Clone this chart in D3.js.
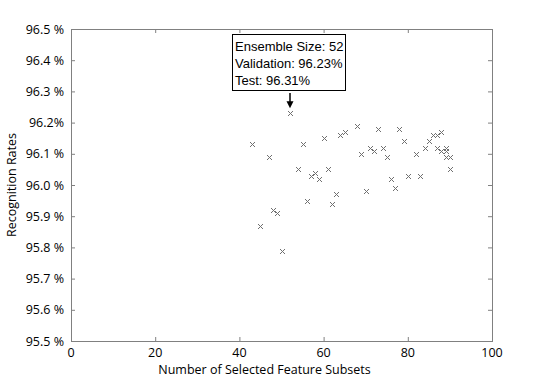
<!DOCTYPE html>
<html>
<head>
<meta charset="utf-8">
<script src="https://cdn.jsdelivr.net/npm/d3@7"></script>
<style>
body{margin:0;background:#fff;}
.tickText{font-family:"Open Sans",sans-serif;font-size:12.5px;fill:#000;}
.aText{font-family:"Open Sans",sans-serif;font-size:12.5px;fill:#000;}
.note{font-family:"Liberation Sans",Arial,sans-serif;font-size:13px;fill:#000;}
</style>
</head>
<body>
<div id="chart"></div>
<script>
// ensemble sizes and recognition rates (%)
var sizes=[43,45,47,48,49,50,52,54,55,56,57,58,59,60,61,62,63,64,65,68,69,70,71,72,73,74,75,76,77,78,79,80,82,83,84,85,86,87,87,88,88,89,89,89,90,90];
var rates=[96.13,95.87,96.09,95.92,95.91,95.79,96.23,96.05,96.13,95.95,96.03,96.04,96.02,96.15,96.05,95.94,95.97,96.16,96.17,96.19,96.10,95.98,96.12,96.11,96.18,96.12,96.09,96.02,95.99,96.18,96.14,96.03,96.10,96.03,96.12,96.14,96.16,96.16,96.12,96.17,96.11,96.12,96.11,96.09,96.09,96.05];
var xTicks=[0,20,40,60,80,100];
var yTicks=[95.5,95.6,95.7,95.8,95.9,96.0,96.1,96.2,96.3,96.4,96.5];
var yTickLabels=["95.5 %","95.6 %","95.7 %","95.8 %","95.9 %","96.0 %","96.1 %","96.2%","96.3 %","96.4 %","96.5 %"];
var noteLines=["Ensemble Size: 52","Validation: 96.23%","Test: 96.31%"];
var noteIndex=6;

var wide=543;
var high=384;
var pLeft=71;
var pRight=492;
var pTop=29;
var pBottom=341;
var svg=d3
  .select("#chart")
  .append("svg")
  .attr("width",wide)
  .attr("height",high);
var xscale=d3.scaleLinear().domain([0,100]).range([pLeft,pRight]);
var yscale=d3.scaleLinear().domain([95.5,96.5]).range([pBottom,pTop]);
var axisColor="#808080";
var tk=4;
// ticks on all four sides
function tickLines(axisGen,tr){
  svg.append("g")
    .attr("transform",tr)
    .call(axisGen)
    .call(function(g){
      g.select(".domain").remove();
      g.selectAll(".tick line").attr("stroke",axisColor);
      g.selectAll(".tick text").remove();
    });
}
tickLines(d3.axisTop(xscale).tickValues(xTicks).tickSize(tk),"translate(0,"+pBottom+")");
tickLines(d3.axisBottom(xscale).tickValues(xTicks).tickSize(tk),"translate(0,"+pTop+")");
tickLines(d3.axisRight(yscale).tickValues(yTicks).tickSize(tk),"translate("+pLeft+",0)");
tickLines(d3.axisLeft(yscale).tickValues(yTicks).tickSize(tk),"translate("+pRight+",0)");
svg.append("rect")
  .attr("x",pLeft+0.5)
  .attr("y",pTop+0.5)
  .attr("width",pRight-pLeft)
  .attr("height",pBottom-pTop)
  .attr("fill","none")
  .attr("stroke",axisColor);
// tick labels
svg.selectAll(".xl")
  .data(xTicks)
  .enter()
  .append("text")
  .attr("class","tickText")
  .attr("x",function(d){return xscale(d);})
  .attr("y",pBottom+16)
  .attr("text-anchor","middle")
  .text(function(d){return d;});
svg.selectAll(".yl")
  .data(yTicks)
  .enter()
  .append("text")
  .attr("class","tickText")
  .attr("x",pLeft-7)
  .attr("y",function(d){return yscale(d)+4.5;})
  .attr("text-anchor","end")
  .text(function(d,i){return yTickLabels[i];});
svg.append("text")
  .attr("class","aText")
  .attr("x",(pLeft+pRight)/2-17)
  .attr("y",pBottom+33)
  .attr("text-anchor","middle")
  .text("Number of Selected Feature Subsets");
svg.append("text")
  .attr("class","aText")
  .attr("transform","translate(16,"+((pTop+pBottom)/2)+")rotate(-90)")
  .attr("text-anchor","middle")
  .text("Recognition Rates");
// x markers
var m=2.5;
svg.selectAll(".pt")
  .data(sizes)
  .enter()
  .append("path")
  .attr("d",function(d,i){
    var cx=Math.round(xscale(d))+0.5;
    var cy=Math.round(yscale(rates[i]))+0.5;
    return "M"+(cx-m)+","+(cy-m)+"L"+(cx+m)+","+(cy+m)+"M"+(cx-m)+","+(cy+m)+"L"+(cx+m)+","+(cy-m);
  })
  .attr("stroke","#707070")
  .attr("stroke-width",1)
  .attr("fill","none");
// annotation
var px=Math.round(xscale(sizes[noteIndex]));
var py=yscale(rates[noteIndex]);
svg.append("rect")
  .attr("x",232.5)
  .attr("y",34.5)
  .attr("width",113)
  .attr("height",56)
  .attr("fill","#fff")
  .attr("stroke","#000");
svg.selectAll(".nl")
  .data(noteLines)
  .enter()
  .append("text")
  .attr("class","note")
  .attr("x",235)
  .attr("y",function(d,i){return 51+i*17;})
  .text(function(d){return d;});
svg.append("line")
  .attr("x1",px)
  .attr("x2",px)
  .attr("y1",93)
  .attr("y2",py-9)
  .attr("stroke","#000")
  .attr("stroke-width",1.5);
svg.append("path")
  .attr("d","M"+(px-3.5)+","+(py-12)+"L"+(px+3.5)+","+(py-12)+"L"+px+","+(py-5)+"Z")
  .attr("fill","#000");
</script>
</body>
</html>
